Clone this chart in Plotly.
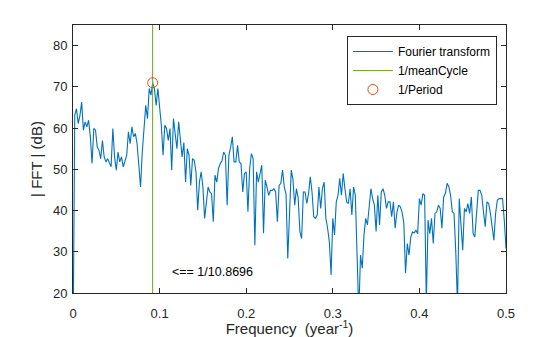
import plotly.graph_objects as go

# Frequency resolution and spectrum magnitude (dB)
df = 0.002
fft_db = [
    5, 63.1, 64.7, 61.1, 63.0, 66.3, 59.5, 61.5, 60.3, 61.9,
    58.0, 51.4, 59.9, 59.5, 55.4, 54.6, 52.6, 57.0, 53.0, 51.8,
    52.6, 51.4, 50.6, 59.9, 53.0, 49.8, 54.2, 51.8, 53.0, 50.6,
    52.2, 53.4, 59.1, 56.2, 60.3, 57.9, 58.7, 56.2, 51.0, 45.7,
    54.2, 60.0, 65.5, 62.3, 69.6, 68.0, 71.0, 69.6, 65.5, 69.6,
    65.5, 60.7, 53.4, 60.7, 59.9, 57.0, 59.9, 49.8, 62.3, 58.3,
    55.0, 61.5, 57.0, 53.0, 56.5, 46.9, 55.0, 53.4, 46.1, 52.6,
    52.2, 49.4, 40.1, 46.9, 49.4, 45.7, 38.1, 42.1, 45.7, 44.5,
    44.1, 37.3, 48.6, 46.9, 50.2, 51.4, 52.0, 54.2, 53.4, 41.3,
    53.4, 55.4, 57.9, 51.8, 51.8, 55.8, 51.8, 51.4, 44.5, 49.0,
    49.4, 39.7, 50.2, 53.8, 52.6, 31.6, 49.4, 46.9, 49.4, 51.0,
    34.5, 47.4, 45.7, 43.7, 44.9, 44.9, 45.3, 44.5, 37.3, 46.1,
    46.6, 49.8, 45.7, 44.0, 28.4, 40.5, 49.8, 47.5, 41.3, 45.3,
    43.0, 34.9, 33.2, 44.5, 44.5, 41.7, 44.1, 48.2, 44.5, 38.5,
    38.1, 38.9, 45.7, 40.5, 45.3, 46.9, 38.1, 35.7, 32.4, 24.4,
    38.1, 34.1, 42.1, 43.7, 47.8, 43.7, 49.0, 45.3, 42.1, 41.7,
    45.3, 38.9, 45.7, 43.7, 32.4, 15.0, 29.2, 26.0, 34.1, 38.1,
    36.5, 42.1, 45.3, 42.9, 41.3, 34.9, 43.7, 36.5, 44.5, 45.3,
    43.7, 40.5, 42.1, 42.1, 38.5, 42.1, 35.7, 39.5, 41.3, 40.9,
    39.6, 37.0, 24.8, 32.0, 29.2, 33.5, 34.8, 34.6, 35.2, 34.4,
    42.9, 41.3, 44.1, 43.7, 18.0, 37.7, 34.4, 38.1, 32.0, 39.3,
    39.7, 41.3, 40.5, 35.7, 43.3, 44.1, 46.6, 45.8, 43.7, 39.7,
    39.3, 30.0, 17.0, 42.9, 36.9, 30.4, 40.5, 39.7, 41.7, 39.3,
    43.3, 34.4, 33.6, 39.3, 44.9, 44.9, 43.7, 39.7, 36.1, 42.1,
    41.7, 39.3, 35.7, 32.8, 39.3, 42.5, 42.9, 42.9, 42.9, 37.7,
    30.8,
]
freq = [i * df for i in range(len(fft_db))]

period = 10.8696
mean_cycle = 10.88
peak_db = 71.0
y_limits = [20, 85]
x_limits = [0, 0.5]
x_ticks = [0, 0.1, 0.2, 0.3, 0.4, 0.5]
y_ticks = [20, 30, 40, 50, 60, 70, 80]

FONT = "Liberation Sans, Arial, Helvetica, sans-serif"
AX = "#262626"

fig = go.Figure()
fig.add_trace(go.Scatter(
    x=freq, y=fft_db, mode="lines", name="Fourier transform",
    line=dict(color="#0072BD", width=1.1),
))
fig.add_trace(go.Scatter(
    x=[1 / mean_cycle, 1 / mean_cycle], y=y_limits, mode="lines",
    name="1/meanCycle", line=dict(color="#77AC30", width=1.1),
))
fig.add_trace(go.Scatter(
    x=[1 / period], y=[peak_db], mode="markers", name="1/Period",
    marker=dict(symbol="circle-open", size=10, color="#D95319",
                line=dict(width=1, color="#D95319")),
))

fig.add_annotation(
    x=1 / period + 0.02, y=25, text="<== 1/" + f"{period:.4f}",
    showarrow=False, xanchor="left", yanchor="middle",
    font=dict(family=FONT, size=12.5, color="#000000"),
)

axis_common = dict(
    showgrid=False, zeroline=False, showline=True, linecolor=AX,
    linewidth=1, mirror="allticks", ticks="inside", ticklen=5,
    tickcolor=AX, tickwidth=1, automargin=False,
    tickfont=dict(family=FONT, size=13, color=AX),
)

fig.update_layout(
    width=560, height=337,
    margin=dict(l=73, r=54, t=25, b=44),
    paper_bgcolor="white", plot_bgcolor="white",
    font=dict(family=FONT, color=AX),
    xaxis=dict(range=x_limits, tickvals=x_ticks,
               ticktext=[f"{v:g}" for v in x_ticks],
               ticklabelstandoff=8,
               title=dict(text="Frequency  (year<sup>-1</sup>)",
                          font=dict(family=FONT, size=15, color=AX),
                          standoff=0),
               **axis_common),
    yaxis=dict(range=y_limits, tickvals=y_ticks,
               ticklabelstandoff=2,
               title=dict(text="| FFT | (dB)",
                          font=dict(family=FONT, size=15, color=AX),
                          standoff=6),
               **axis_common),
    legend=dict(
        x=0.979, y=0.959, xanchor="right", yanchor="top",
        bgcolor="white", bordercolor="#262626", borderwidth=1,
        font=dict(family=FONT, size=12, color="#000000"),
        tracegroupgap=0, itemwidth=40,
    ),
    showlegend=True,
)

fig.write_html("out.html")
